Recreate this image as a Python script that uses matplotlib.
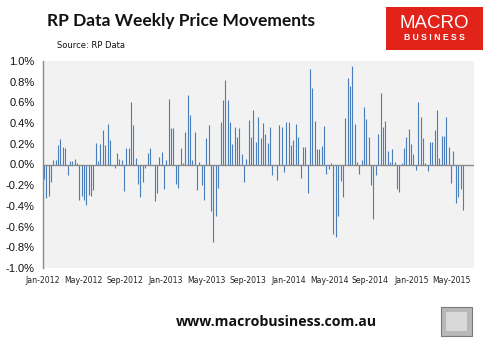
import matplotlib
matplotlib.use("Agg")
import matplotlib.pyplot as plt
import matplotlib.dates as mdates
from matplotlib.patches import Rectangle
from matplotlib.ticker import FuncFormatter, FixedLocator
import pandas as pd
import numpy as np

# ---- data (weekly % change) ----
start_date = "2012-01-04"
weekly_change = [
    -0.14, -0.32, -0.30, -0.17, 0.04, 0.04, 0.19, 0.25, 0.17, 0.16,
    -0.10, 0.03, 0.03, 0.05, 0.01, -0.34, -0.30, -0.34, -0.39, -0.29,
    -0.30, -0.25, 0.21, 0.03, 0.20, 0.33, 0.19, 0.39, 0.24, 0.00,
    -0.03, 0.11, 0.05, 0.04, -0.26, 0.16, 0.16, 0.60, 0.38, 0.06,
    -0.19, -0.31, -0.17, -0.03, 0.11, 0.16, 0.00, -0.35, -0.28, 0.07,
    0.12, -0.24, 0.04, 0.63, 0.35, 0.35, -0.19, -0.23, 0.16, 0.01,
    0.31, 0.67, 0.48, 0.04, 0.31, -0.25, 0.02, -0.20, -0.34, 0.26,
    0.38, -0.45, -0.75, -0.50, -0.23, 0.41, 0.62, 0.82, 0.62, 0.41,
    0.20, 0.36, 0.27, 0.35, 0.10, -0.17, 0.05, 0.43, 0.27, 0.53,
    0.22, 0.46, 0.26, 0.40, 0.29, 0.21, 0.36, -0.10, 0.00, -0.15,
    0.38, 0.36, -0.07, 0.41, 0.41, 0.19, 0.24, 0.39, 0.27, -0.13,
    0.17, 0.17, -0.28, 0.92, 0.74, 0.42, 0.15, 0.15, 0.18, 0.37,
    -0.09, -0.04, 0.01, -0.67, -0.70, -0.50, -0.16, -0.31, 0.45, 0.84,
    0.76, 0.95, 0.39, 0.02, -0.09, 0.04, 0.56, 0.44, 0.27, -0.20,
    -0.53, -0.10, 0.29, 0.69, 0.36, 0.42, 0.13, 0.02, 0.15, 0.02,
    -0.24, -0.27, 0.01, 0.16, 0.27, 0.34, 0.20, 0.10, -0.05, 0.60,
    0.46, 0.26, 0.01, -0.06, 0.22, 0.22, 0.33, 0.53, 0.06, 0.28,
    0.28, 0.46, 0.17, -0.18, 0.13, -0.37, -0.31, -0.24, -0.44,
]
dates = pd.date_range(start_date, periods=len(weekly_change), freq="7D")
tick_dates = pd.date_range("2012-01-01", "2015-05-01", freq="4MS")
tick_labels = [d.strftime("%b-%Y") for d in tick_dates]
y_ticks = [-1.0, -0.8, -0.6, -0.4, -0.2, 0.0, 0.2, 0.4, 0.6, 0.8, 1.0]

title = "RP Data Weekly Price Movements"
source = "Source: RP Data"
footer = "www.macrobusiness.com.au"

# ---- figure ----
W, H = 490, 340
fig = plt.figure(figsize=(W / 100, H / 100), dpi=100)
fig.patch.set_facecolor("white")

def fx(px):
    return px / W

def fy(py):
    return 1 - py / H

ax = fig.add_axes([fx(43), fy(268), fx(474) - fx(43), fy(61) - fy(268)])
ax.set_facecolor("#F2F2F2")

# weekly bars drawn as thin 1-px columns
ax.vlines(mdates.date2num(dates), 0, weekly_change, colors="#4A7EBB",
          linewidth=0.8, zorder=2)
ax.axhline(0, color="#8A8A8A", linewidth=1.0, zorder=3)

ax.set_ylim(-1.0, 1.0)
ax.set_xlim(mdates.date2num(pd.Timestamp("2012-01-01")),
            mdates.date2num(pd.Timestamp("2015-07-06")))
ax.yaxis.set_major_locator(FixedLocator(y_ticks))
ax.yaxis.set_major_formatter(FuncFormatter(lambda v, p: f"{v:.1f}%"))
ax.set_xticks(mdates.date2num(tick_dates))
ax.set_xticklabels(tick_labels, fontsize=5.6, family="DejaVu Sans", color="#222222")
for lab in ax.get_yticklabels():
    lab.set_fontsize(8.0)
    lab.set_family("Liberation Sans")
    lab.set_color("#111111")

ax.tick_params(axis="both", length=0)
ax.tick_params(axis="y", pad=6)
ax.tick_params(axis="x", pad=6)
for s in ["top", "right", "bottom"]:
    ax.spines[s].set_visible(False)
ax.spines["left"].set_color("#8A8A8A")
ax.spines["left"].set_linewidth(1.0)

# ---- texts ----
fig.text(fx(47), fy(21), title, fontsize=12.5, fontweight="bold",
         family="Lato", ha="left", va="center", color="#111111")
fig.text(fx(57), fy(46), source, fontsize=6.0, family="DejaVu Sans",
         ha="left", va="center", color="#111111")
fig.text(fx(276), fy(322), footer, fontsize=10.2, fontweight="bold",
         family="Open Sans", ha="center", va="center", color="#111111")

# ---- logo ----
fig.patches.append(Rectangle((fx(386), fy(50)), fx(483) - fx(386), fy(7) - fy(50),
                             transform=fig.transFigure, facecolor="#E2231A",
                             edgecolor="none", zorder=1))
fig.text(fx(434), fy(23), "MACRO", fontsize=13.5, family="Liberation Sans",
         color="white", ha="center", va="center", zorder=2)
fig.text(fx(434), fy(37), "B U S I N E S S", fontsize=6.2, fontweight="bold",
         family="Liberation Sans", color="white", ha="center", va="center", zorder=2)

# ---- small picture box ----
fig.patches.append(Rectangle((fx(441), fy(336)), fx(472) - fx(441), fy(307) - fy(336),
                             transform=fig.transFigure, facecolor="#B8B8B8",
                             edgecolor="#7A7A7A", linewidth=0.8, zorder=1))
fig.patches.append(Rectangle((fx(446), fy(331)), fx(467) - fx(446), fy(312) - fy(331),
                             transform=fig.transFigure, facecolor="#D8D8D8",
                             edgecolor="none", zorder=2))

fig.savefig("out.png", dpi=100, facecolor="white")
